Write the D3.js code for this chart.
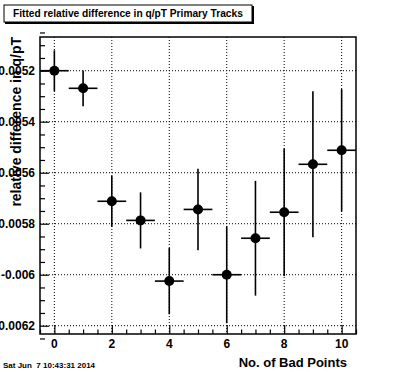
<!DOCTYPE html>
<html>
<head>
<meta charset="utf-8">
<script src="https://cdn.jsdelivr.net/npm/d3@7"></script>
<style>
  body { margin: 0; background: #ffffff; }
  text { font-family: 'Liberation Sans', Arial, sans-serif; font-weight: bold; }
</style>
</head>
<body>
<div id="chart"></div>
<script>
// DATA
var badPoints = [0, 1, 2, 3, 4, 5, 6, 7, 8, 9, 10];
var relDiff = [-0.005200, -0.005269, -0.005712, -0.005787, -0.006025, -0.005744, -0.006000, -0.005857, -0.005755, -0.005567, -0.005512];
var relDiffErr = [0.00008, 0.00007, 0.0001, 0.00011, 0.00013, 0.00016, 0.00019, 0.000225, 0.00025, 0.000286, 0.00024];
var binHalfWidth = 0.5;
var xTicks = [0, 2, 4, 6, 8, 10];
var yTicks = [-0.0062, -0.006, -0.0058, -0.0056, -0.0054, -0.0052];
var titleText = "Fitted relative difference in q/pT Primary Tracks";
var xTitle = "No. of Bad Points";
var yTitle = "relative difference in q/pT";
var dateText = "Sat Jun  7 10:43:31 2014";

// FRAME
var width = 396;
var height = 372;
var frame = {"left": 40, "right": 356, "top": 37, "bottom": 334};

var svg = d3.select("#chart").append("svg")
  .attr("width", width)
  .attr("height", height);

var x = d3.scaleLinear()
  .domain([-0.5, 10.5])
  .range([frame.left, frame.right]);

var y = d3.scaleLinear()
  .domain([-0.0062325, -0.0050678])
  .range([frame.bottom, frame.top]);

svg.append("clipPath").attr("id", "clip")
  .append("rect")
  .attr("x", frame.left)
  .attr("y", frame.top)
  .attr("width", frame.right - frame.left)
  .attr("height", frame.bottom - frame.top);

// grid
svg.append("g").selectAll("line").data(xTicks).enter().append("line")
  .attr("x1", d => x(d)).attr("x2", d => x(d))
  .attr("y1", frame.top).attr("y2", frame.bottom)
  .attr("stroke", "#000").attr("stroke-width", 1)
  .attr("stroke-dasharray", "1,2");

svg.append("g").selectAll("line").data(yTicks).enter().append("line")
  .attr("x1", frame.left).attr("x2", frame.right)
  .attr("y1", d => y(d)).attr("y2", d => y(d))
  .attr("stroke", "#000").attr("stroke-width", 1)
  .attr("stroke-dasharray", "1,2");

// x axis ticks (pointing up into frame)
var xAxis = d3.axisTop(x)
  .tickValues(d3.range(-0.5, 10.51, 0.5))
  .tickSize(0)
  .tickFormat("");
var xg = svg.append("g")
  .attr("transform", `translate(0,${frame.bottom})`)
  .call(xAxis);
xg.select(".domain").remove();
xg.selectAll(".tick line")
  .attr("y2", d => (d % 2 === 0 ? -9 : -4.5))
  .attr("stroke-width", 1.2);

svg.append("g").selectAll("text").data(xTicks).enter().append("text")
  .attr("x", d => x(d))
  .attr("y", 348)
  .attr("text-anchor", "middle")
  .attr("font-size", "12px")
  .text(d => d);

// y axis ticks (pointing right into frame)
var yAxis = d3.axisRight(y)
  .tickValues(d3.range(-0.00625, -0.00505, 0.00005))
  .tickSize(0)
  .tickFormat("");
var yg = svg.append("g")
  .attr("transform", `translate(${frame.left},0)`)
  .call(yAxis);
yg.select(".domain").remove();
yg.selectAll(".tick line")
  .attr("x2", d => (Math.abs(Math.round(d / 0.00005)) % 4 === 0 ? 9 : 5))
  .attr("stroke-width", 1.2);

svg.append("g").selectAll("text").data(yTicks).enter().append("text")
  .attr("x", 35)
  .attr("y", d => y(d))
  .attr("dy", ".35em")
  .attr("text-anchor", "end")
  .attr("font-size", "12px")
  .text(d => String(+d.toFixed(4)));

// frame
svg.append("rect")
  .attr("x", frame.left)
  .attr("y", frame.top)
  .attr("width", frame.right - frame.left)
  .attr("height", frame.bottom - frame.top)
  .attr("fill", "none")
  .attr("stroke", "#000")
  .attr("stroke-width", 1.5);

// points with error bars
var pts = svg.append("g").attr("clip-path", "url(#clip)")
  .selectAll("g").data(badPoints).enter().append("g");

pts.append("line")
  .attr("x1", (d, i) => x(d)).attr("x2", (d, i) => x(d))
  .attr("y1", (d, i) => y(relDiff[i] + relDiffErr[i]))
  .attr("y2", (d, i) => y(relDiff[i] - relDiffErr[i]))
  .attr("stroke", "#000").attr("stroke-width", 1.6);

pts.append("line")
  .attr("x1", d => x(d - binHalfWidth)).attr("x2", d => x(d + binHalfWidth))
  .attr("y1", (d, i) => y(relDiff[i]))
  .attr("y2", (d, i) => y(relDiff[i]))
  .attr("stroke", "#000").attr("stroke-width", 1.6);

pts.append("circle")
  .attr("cx", d => x(d))
  .attr("cy", (d, i) => y(relDiff[i]))
  .attr("r", 5)
  .attr("fill", "#000");

// axis titles
svg.append("text")
  .attr("x", 347)
  .attr("y", 367)
  .attr("text-anchor", "end")
  .attr("font-size", "13px")
  .text(xTitle);

svg.append("text")
  .attr("transform", `translate(21,${frame.top}) rotate(-90)`)
  .attr("text-anchor", "end")
  .attr("font-size", "14px")
  .text(yTitle);

// title box
svg.append("rect")
  .attr("x", 5).attr("y", 6)
  .attr("width", 249).attr("height", 18)
  .attr("fill", "#000");
svg.append("rect")
  .attr("x", 4).attr("y", 5)
  .attr("width", 248).attr("height", 17)
  .attr("fill", "#fff")
  .attr("stroke", "#000")
  .attr("stroke-width", 1);
svg.append("text")
  .attr("x", 13)
  .attr("y", 17)
  .attr("font-size", "10.2px")
  .text(titleText);

// date stamp
svg.append("text")
  .attr("x", 3)
  .attr("y", 368)
  .attr("font-size", "8px")
  .style("white-space", "pre")
  .text(dateText);
</script>
</body>
</html>
